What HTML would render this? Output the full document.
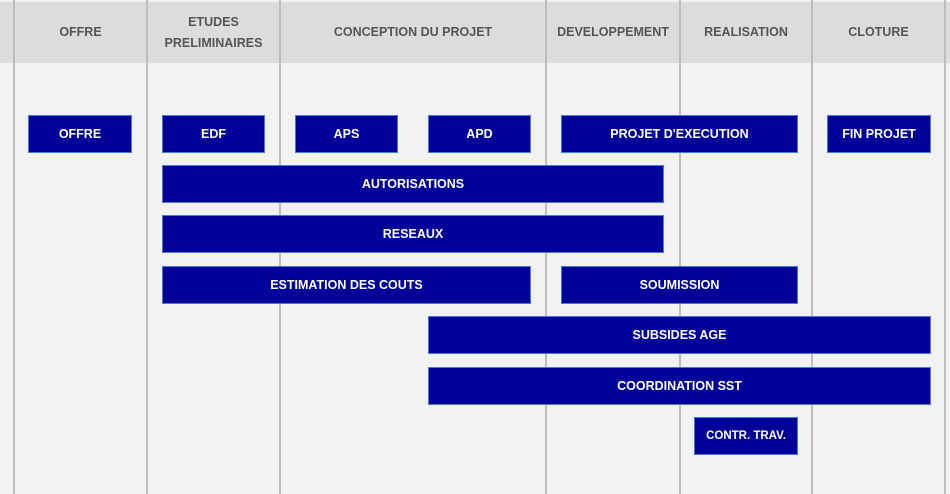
<!DOCTYPE html>
<html><head><style>
body{margin:0;width:950px;height:494px;background:#f2f2f2;position:relative;overflow:hidden;font-family:"Liberation Sans",Arial,sans-serif;font-weight:bold}
.hdr{position:absolute;left:0;top:2px;width:950px;height:61px;background:#dcdcdc}
.vl{position:absolute;top:0;width:2px;height:494px;background:#bdbdbd}
.h{position:absolute;top:2px;height:61px;display:flex;align-items:center;justify-content:center;text-align:center;color:#555;font-size:12.5px;line-height:21px}
.b{position:absolute;background:#000099;border:1px solid #3d7fd6;box-sizing:border-box;color:#fff;font-size:12.5px;display:flex;align-items:center;justify-content:center;height:38px}
</style></head><body>
<div class="hdr"></div>
<div class="vl" style="left:13px"></div>
<div class="vl" style="left:146px"></div>
<div class="vl" style="left:279px"></div>
<div class="vl" style="left:545px"></div>
<div class="vl" style="left:679px"></div>
<div class="vl" style="left:811px"></div>
<div class="vl" style="left:944px"></div>
<div class="h" style="left:15px;width:131px">OFFRE</div>
<div class="h" style="left:148px;width:131px">ETUDES<br>PRELIMINAIRES</div>
<div class="h" style="left:281px;width:264px">CONCEPTION DU PROJET</div>
<div class="h" style="left:547px;width:132px">DEVELOPPEMENT</div>
<div class="h" style="left:681px;width:130px">REALISATION</div>
<div class="h" style="left:813px;width:131px">CLOTURE</div>
<div class="b" style="left:28px;top:115px;width:104px">OFFRE</div>
<div class="b" style="left:162px;top:115px;width:103px">EDF</div>
<div class="b" style="left:295px;top:115px;width:103px">APS</div>
<div class="b" style="left:428px;top:115px;width:103px">APD</div>
<div class="b" style="left:561px;top:115px;width:237px">PROJET D'EXECUTION</div>
<div class="b" style="left:827px;top:115px;width:104px">FIN PROJET</div>
<div class="b" style="left:162px;top:165px;width:502px">AUTORISATIONS</div>
<div class="b" style="left:162px;top:215px;width:502px">RESEAUX</div>
<div class="b" style="left:162px;top:266px;width:369px">ESTIMATION DES COUTS</div>
<div class="b" style="left:561px;top:266px;width:237px">SOUMISSION</div>
<div class="b" style="left:428px;top:316px;width:503px">SUBSIDES AGE</div>
<div class="b" style="left:428px;top:367px;width:503px">COORDINATION SST</div>
<div class="b" style="left:694px;top:417px;width:104px;font-size:11.5px">CONTR. TRAV.</div>
</body></html>
